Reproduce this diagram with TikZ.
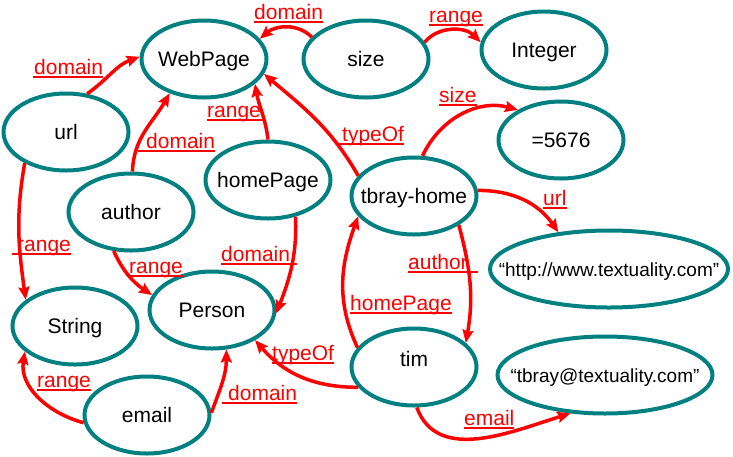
\documentclass[tikz,border=0pt]{standalone}
\usepackage{fontspec}
\setmainfont{Liberation Sans}
\usetikzlibrary{shapes.geometric,arrows.meta}
\definecolor{tealc}{RGB}{0,128,128}
\newcommand\ulx[3]{\setbox0\hbox{#3}\hskip-#1\rlap{\rule[-4pt]{\dimexpr\wd0+#1+#2\relax}{2pt}}\hskip#1\box0}
\begin{document}
\begin{tikzpicture}[x=1pt,y=-1pt,
  every node/.style={font=\fontsize{21}{25}\selectfont},
  ell/.style={ellipse, draw=tealc, line width=4pt, minimum width=125pt, minimum height=77pt, inner sep=0pt, text height=15pt, text depth=0pt},
  lbl/.style={text=red, anchor=base west, inner sep=0pt},
  arr/.style={draw=red, line width=3.5pt, -{Stealth[length=13pt,width=11pt,inset=2pt]}}]
\useasboundingbox[fill=white] (0,0) rectangle (733,456);
% nodes
\node[ell] (wp) at (204,59) {\makebox[0pt]{WebPage}};
\node[ell] (size) at (366,59) {\makebox[0pt]{size}};
\node[ell] (int) at (544,50) {\makebox[0pt]{Integer}};
\node[ell] (val) at (561,140) {\makebox[0pt]{=5676}};
\node[ell] (url) at (66,132) {\makebox[0pt]{url}};
\node[ell] (author) at (131,212) {\makebox[0pt]{author}};
\node[ell] (hp) at (268,180) {\makebox[0pt]{homePage}};
\node[ell] (tb) at (414,196) {\makebox[0pt]{tbray-home}};
\node[ell] (person) at (212,310) {\makebox[0pt]{Person}};
\node[ell] (string) at (75,326) {\makebox[0pt]{String}};
\node[ell] (email) at (147,415) {\makebox[0pt]{email}};
\node[ell] (tim) at (414,367) {\makebox[0pt]{\raisebox{8pt}{tim}}};
\node[ell, minimum width=238pt] (http) at (609,269) {\makebox[0pt]{\fontsize{19}{23}\selectfont “http://www.textuality.com”}};
\node[ell, minimum width=215pt] (mail) at (605,375) {\makebox[0pt]{\fontsize{19}{23}\selectfont “tbray@textuality.com”}};
% connectors
\draw[arr] (url.61) to[out=35,in=200] (wp.178);
\draw[arr] (author.88) to[out=88,in=240] (wp.225);
\draw[arr] (hp.90) to[out=97,in=-80] (wp.-26);
\draw[arr] (size.158) to[out=135,in=40] (wp.20);
\draw[arr] (size.16) to[out=50,in=135] (int.173);
\draw[arr] (tb.160) to[out=120,in=-40] (wp.-14);
\draw[arr] (tb.78) to[out=65,in=165] (val.145);
\draw[arr] (tb.5) to[out=0,in=125] (http.144);
\draw[arr] (tb.-33) to[out=-75,in=80] (tim.25);
\draw[arr] (tim.161) to[out=115,in=-110] (tb.200);
\draw[arr] (tim.200) to[out=180,in=-49] (person.-35);
\draw[arr] (hp.-53) to[out=-88,in=69] (person.-3);
\draw[arr] (author.-114) to[out=-65,in=146] (person.166);
\draw[arr] (url.-143) to[out=-100,in=98] (string.152);
\draw[arr] (email.187) to[out=165,in=-99] (string.207);
\draw[arr] (email.2) to[out=70,in=-90] (person.-70);
\draw[arr] (tim.-86) to[out=-70,in=197] (mail.228);
% labels
\node[lbl] (l1) at (34,74) {\ulx{1pt}{0pt}{domain}};
\node[lbl] (l2) at (146,148) {\ulx{8pt}{0pt}{domain}};
\node[lbl] (l3) at (207,117) {\ulx{0pt}{5pt}{range}};
\node[lbl] (l4) at (254,19) {\ulx{0pt}{0pt}{domain}};
\node[lbl] (l5) at (429,22) {\ulx{0pt}{0pt}{range}};
\node[lbl] (l6) at (342,141) {\ulx{5pt}{0pt}{typeOf}};
\node[lbl] (l7) at (439,102) {\ulx{0pt}{0pt}{size}};
\node[lbl] (l8) at (543,205) {\ulx{0pt}{0pt}{url}};
\node[lbl] (l9) at (408,269) {\ulx{0pt}{10pt}{author}};
\node[lbl] (l10) at (350,310) {\ulx{0pt}{0pt}{homePage}};
\node[lbl] (l11) at (272,360) {\ulx{0pt}{0pt}{typeOf}};
\node[lbl] (l12) at (221,261) {\ulx{0pt}{7pt}{domain}};
\node[lbl] (l13) at (129,273) {\ulx{0pt}{0pt}{range}};
\node[lbl] (l14) at (17,251) {\ulx{5pt}{0pt}{range}};
\node[lbl] (l15) at (37,387) {\ulx{0pt}{0pt}{range}};
\node[lbl] (l16) at (228,400) {\ulx{6pt}{0pt}{domain}};
\node[lbl] (l17) at (464,425) {\ulx{0pt}{0pt}{email}};
\end{tikzpicture}
\end{document}
